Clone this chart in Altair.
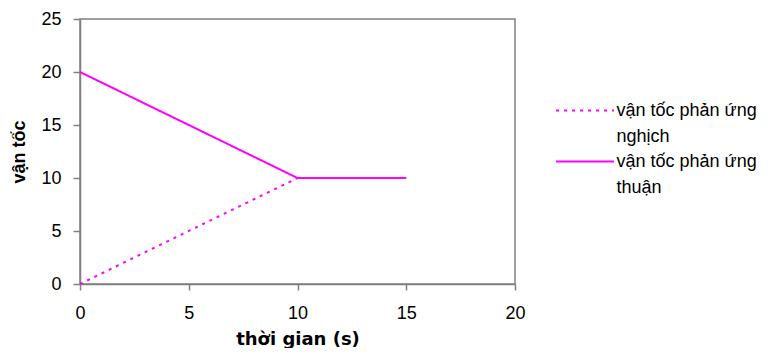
import altair as alt
import pandas as pd

series_names = ["vận tốc phản ứng nghịch", "vận tốc phản ứng thuận"]
time_s = [0, 10, 15]
v_nghich = [0, 10, 10]
v_thuan = [20, 10, 10]

rows = []
for t, v in zip(time_s, v_nghich):
    rows.append({"t": t, "v": v, "series": series_names[0]})
for t, v in zip(time_s, v_thuan):
    rows.append({"t": t, "v": v, "series": series_names[1]})
df = pd.DataFrame(rows)

FONT = "Liberation Sans"

chart = alt.Chart(df).mark_line(color="#ff00ff", strokeWidth=2).encode(
    x=alt.X("t:Q", title="thời gian (s)",
            scale=alt.Scale(domain=[0, 20], nice=False),
            axis=alt.Axis(values=[0, 5, 10, 15, 20], grid=False, tickSize=6,
                          labelFlush=False, labelPadding=14, titlePadding=8,
                          titleFont="DejaVu Sans", titleFontSize=18)),
    y=alt.Y("v:Q", title="vận tốc",
            scale=alt.Scale(domain=[0, 25], nice=False),
            axis=alt.Axis(values=[0, 5, 10, 15, 20, 25], grid=False, tickSize=7,
                          labelFlush=False, labelPadding=12, titlePadding=12)),
    strokeDash=alt.StrokeDash(
        "series:N",
        scale=alt.Scale(domain=series_names, range=[[3, 5], [1, 0]]),
        legend=alt.Legend(
            title=None, orient="none", legendX=489.5, legendY=76,
            symbolType="M-2,0H2", symbolSize=841, symbolStrokeWidth=2,
            symbolStrokeColor="#ff00ff", labelOffset=16,
            labelExpr="datum.label == 'vận tốc phản ứng nghịch' ? ['vận tốc phản ứng', 'nghịch'] : ['vận tốc phản ứng', 'thuận']",
            labelFont=FONT, labelFontSize=18, labelLimit=300,
            labelBaseline="middle", rowPadding=0,
        ),
    ),
).properties(
    width=435, height=265,
    autosize=alt.AutoSizeParams(type="none"),
    padding={"left": 72, "top": 11, "right": 258, "bottom": 64},
).configure(
    style={"guide-label": {"lineHeight": 26}}
).configure_view(
    stroke="#808080", strokeWidth=1.5
).configure_axis(
    domainColor="#808080", tickColor="#808080", domainWidth=1.5, tickWidth=1.5,
    labelFont=FONT, labelFontSize=18, labelColor="black",
    titleFont=FONT, titleFontSize=18, titleFontWeight="bold", titleColor="black",
)

chart.save("out.html", embed_options={"renderer": "svg", "actions": False})
